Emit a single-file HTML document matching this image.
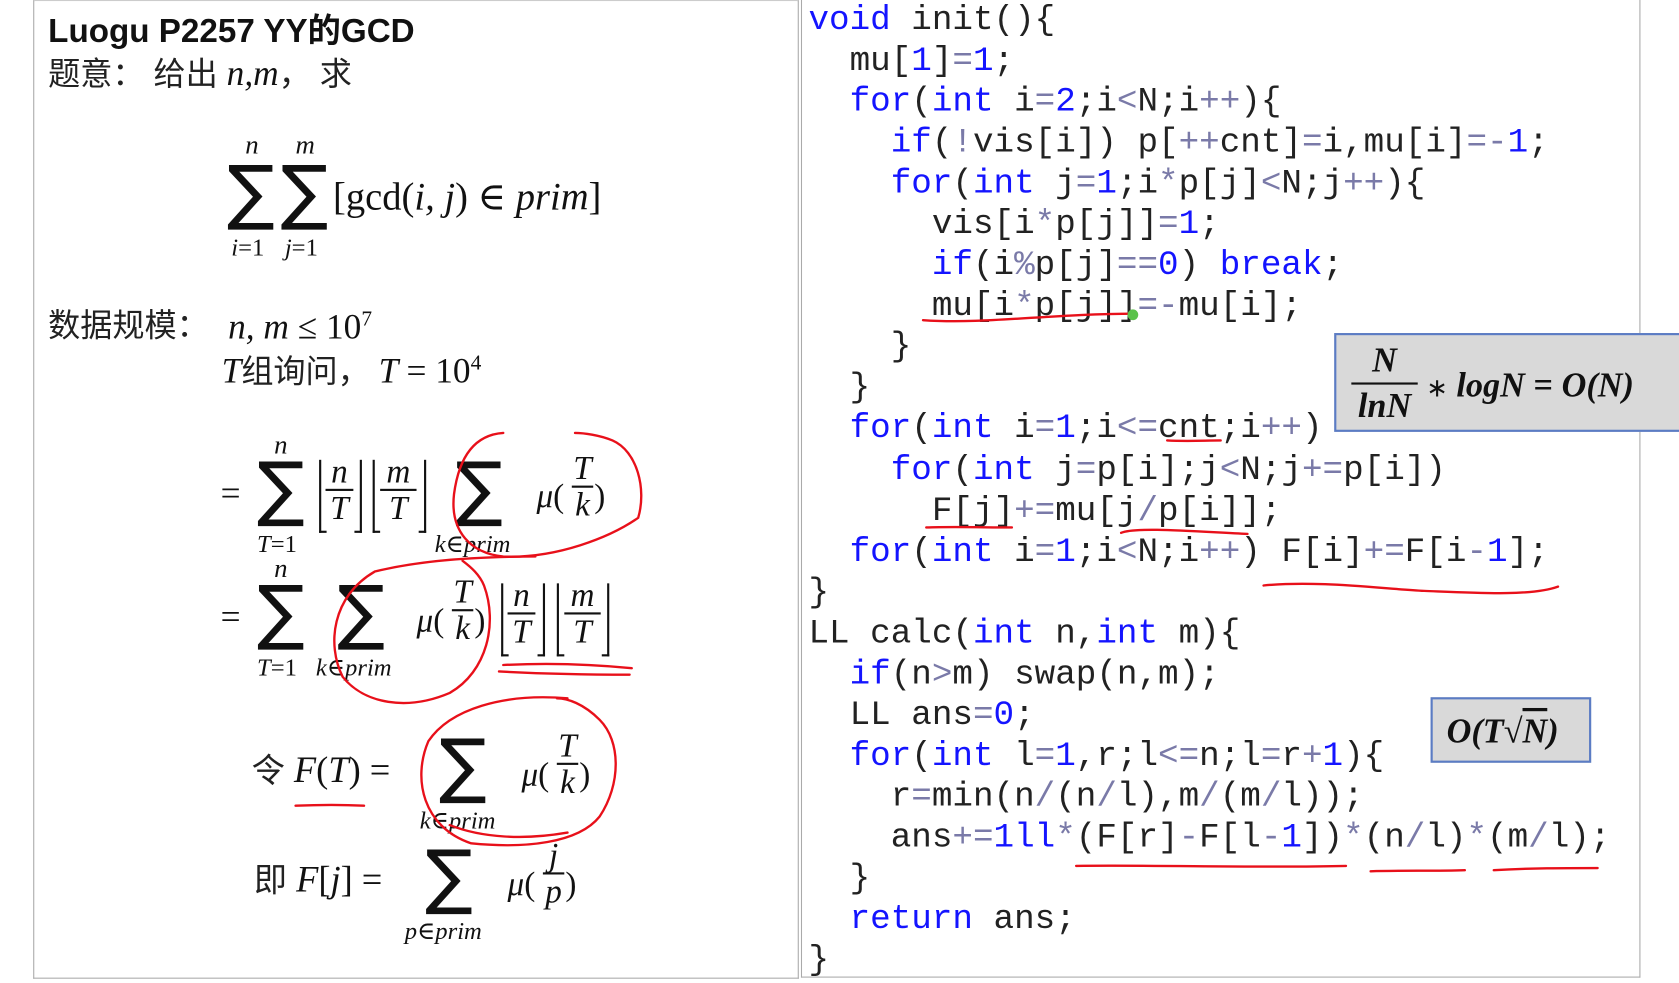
<!DOCTYPE html>
<html><head><meta charset="utf-8"><style>
html,body{margin:0;padding:0;background:#fff;overflow:hidden;width:1679px;height:983px}
#s{position:absolute;left:0;top:0;width:1568px;height:915px;transform:scale(1.07079,1.07432);transform-origin:0 0}
.a{position:absolute;white-space:nowrap;line-height:1}
.cjk{font-family:"Liberation Sans","Noto Sans CJK SC",sans-serif;color:#222}
.m{font-family:"Liberation Serif","DejaVu Serif",serif;font-style:italic;color:#111}
.r{font-style:normal}
.sum{font-family:"DejaVu Sans","Liberation Serif",serif;font-size:66px;color:#111;font-style:normal}
.fr{position:absolute;display:flex;flex-direction:column;align-items:center;font-family:"Liberation Serif",serif;font-style:italic;font-size:31px;line-height:30px;color:#111}
.fr i{display:block;width:100%;height:1.5px;background:#111;margin:1px 0}
.fl{position:absolute;border:2px solid #111;border-top:none;}
.fl.l{border-right:none}.fl.rr{border-left:none}
#code{position:absolute;left:755px;top:0px;font-family:"Liberation Mono",monospace;font-size:32px;line-height:38.04px;color:#222;white-space:pre}
.k{color:#1414ff}.n{color:#1414ff}.o{color:#7a7aa8}
.box{position:absolute;background:#d9d9d9;border:2px solid #5b7cc4;font-family:"Liberation Serif",serif;font-style:italic;font-weight:bold;color:#111}
</style></head><body><div id="s">
<div style="position:absolute;left:31px;top:0;width:713px;height:909px;border:1px solid #aaa;border-top:1px solid #ccc"></div>
<div style="position:absolute;left:748px;top:0;width:782px;height:909px;border:1px solid #aaa;border-top:none"></div>

<div class="a cjk" style="left:45px;top:13px;font-size:31px;font-weight:bold;color:#111">Luogu P2257 YY的GCD</div>
<div class="a cjk" style="left:45px;top:53px;font-size:30px">题意： 给出 <span class="m" style="font-size:33px">n</span><span class="m" style="font-size:33px">,</span><span class="m" style="font-size:33px">m</span>，  求</div>

<!-- formula 1 -->
<div class="a m" style="left:229px;top:123px;font-size:25px">n</div>
<div class="a m" style="left:276px;top:123px;font-size:25px">m</div>
<div class="a sum" style="left:212px;top:146px">∑</div>
<div class="a sum" style="left:262px;top:146px">∑</div>
<div class="a m" style="left:216px;top:219px;font-size:23px">i<span class="r">=1</span></div>
<div class="a m" style="left:266px;top:219px;font-size:23px">j<span class="r">=1</span></div>
<div class="a m" style="left:311px;top:165px;font-size:36px"><span class="r">[gcd(</span>i, j<span class="r">) ∈ </span>prim<span class="r">]</span></div>

<div class="a cjk" style="left:45px;top:289px;font-size:30px">数据规模：</div>
<div class="a m" style="left:213px;top:287px;font-size:33px">n, m <span class="r">≤ 10<sup style="font-size:20px">7</sup></span></div>
<div class="a m" style="left:207px;top:328px;font-size:33px">T<span class="cjk" style="font-style:normal;font-size:30px">组询问，</span> T <span class="r">= 10<sup style="font-size:20px">4</sup></span></div>

<!-- eq1 -->
<div class="a m r" style="left:206px;top:444px;font-size:33px;font-style:normal">=</div>
<div class="a m" style="left:256px;top:402px;font-size:25px">n</div>
<div class="a sum" style="left:240px;top:422px">∑</div>
<div class="a m" style="left:240px;top:495px;font-size:23px">T<span class="r">=1</span></div>
<div class="fl l" style="left:298px;top:428px;width:5px;height:66px"></div>
<div class="fl rr" style="left:331px;top:428px;width:5px;height:66px"></div>
<div class="fr" style="left:304px;top:424px;width:26px">n<i></i>T</div>
<div class="fl l" style="left:348px;top:428px;width:5px;height:66px"></div>
<div class="fl rr" style="left:391px;top:428px;width:5px;height:66px"></div>
<div class="fr" style="left:355px;top:424px;width:34px">m<i></i>T</div>
<div class="a sum" style="left:425px;top:422px">∑</div>
<div class="a m" style="left:406px;top:495px;font-size:23px">k<span class="r">∈</span>prim</div>
<div class="a m" style="left:501px;top:446px;font-size:31px">μ<span class="r">(</span></div>
<div class="fr" style="left:534px;top:421px;width:20px">T<i></i>k</div>
<div class="a m r" style="left:555px;top:446px;font-size:31px;font-style:normal">)</div>

<!-- eq2 -->
<div class="a m r" style="left:206px;top:559px;font-size:33px;font-style:normal">=</div>
<div class="a m" style="left:256px;top:517px;font-size:25px">n</div>
<div class="a sum" style="left:240px;top:537px">∑</div>
<div class="a m" style="left:240px;top:610px;font-size:23px">T<span class="r">=1</span></div>
<div class="a sum" style="left:315px;top:537px">∑</div>
<div class="a m" style="left:295px;top:610px;font-size:23px">k<span class="r">∈</span>prim</div>
<div class="a m" style="left:389px;top:562px;font-size:31px">μ<span class="r">(</span></div>
<div class="fr" style="left:422px;top:536px;width:20px">T<i></i>k</div>
<div class="a m r" style="left:443px;top:562px;font-size:31px;font-style:normal">)</div>
<div class="fl l" style="left:468px;top:543px;width:5px;height:66px"></div>
<div class="fl rr" style="left:502px;top:543px;width:5px;height:66px"></div>
<div class="fr" style="left:474px;top:539px;width:26px">n<i></i>T</div>
<div class="fl l" style="left:520px;top:543px;width:5px;height:66px"></div>
<div class="fl rr" style="left:562px;top:543px;width:5px;height:66px"></div>
<div class="fr" style="left:527px;top:539px;width:34px">m<i></i>T</div>

<!-- eq3 -->
<div class="a m" style="left:235px;top:701px;font-size:34px"><span class="cjk" style="font-style:normal;font-size:31px">令</span> F<span class="r">(</span>T<span class="r">) =</span></div>
<div class="a sum" style="left:410px;top:680px">∑</div>
<div class="a m" style="left:392px;top:752px;font-size:23px">k<span class="r">∈</span>prim</div>
<div class="a m" style="left:487px;top:705px;font-size:31px">μ<span class="r">(</span></div>
<div class="fr" style="left:520px;top:679px;width:20px">T<i></i>k</div>
<div class="a m r" style="left:541px;top:705px;font-size:31px;font-style:normal">)</div>

<!-- eq4 -->
<div class="a m" style="left:237px;top:803px;font-size:34px"><span class="cjk" style="font-style:normal;font-size:31px">即</span> F<span class="r">[</span>j<span class="r">] =</span></div>
<div class="a sum" style="left:397px;top:783px">∑</div>
<div class="a m" style="left:378px;top:855px;font-size:23px">p<span class="r">∈</span>prim</div>
<div class="a m" style="left:474px;top:807px;font-size:31px">μ<span class="r">(</span></div>
<div class="fr" style="left:507px;top:781px;width:20px">j<i></i>p</div>
<div class="a m r" style="left:528px;top:807px;font-size:31px;font-style:normal">)</div>

<div id="code"><span class="k">void</span> init(){
  mu[<span class="n">1</span>]<span class="o">=</span><span class="n">1</span>;
  <span class="k">for</span>(<span class="k">int</span> i<span class="o">=</span><span class="n">2</span>;i<span class="o">&lt;</span>N;i<span class="o">++</span>){
    <span class="k">if</span>(<span class="o">!</span>vis[i]) p[<span class="o">++</span>cnt]<span class="o">=</span>i,mu[i]<span class="o">=-</span><span class="n">1</span>;
    <span class="k">for</span>(<span class="k">int</span> j<span class="o">=</span><span class="n">1</span>;i<span class="o">*</span>p[j]<span class="o">&lt;</span>N;j<span class="o">++</span>){
      vis[i<span class="o">*</span>p[j]]<span class="o">=</span><span class="n">1</span>;
      <span class="k">if</span>(i<span class="o">%</span>p[j]<span class="o">==</span><span class="n">0</span>) <span class="k">break</span>;
      mu[i<span class="o">*</span>p[j]]<span class="o">=-</span>mu[i];
    }
  }
  <span class="k">for</span>(<span class="k">int</span> i<span class="o">=</span><span class="n">1</span>;i<span class="o">&lt;=</span>cnt;i<span class="o">++</span>)
    <span class="k">for</span>(<span class="k">int</span> j<span class="o">=</span>p[i];j<span class="o">&lt;</span>N;j<span class="o">+=</span>p[i])
      F[j]<span class="o">+=</span>mu[j<span class="o">/</span>p[i]];
  <span class="k">for</span>(<span class="k">int</span> i<span class="o">=</span><span class="n">1</span>;i<span class="o">&lt;</span>N;i<span class="o">++</span>) F[i]<span class="o">+=</span>F[i<span class="o">-</span><span class="n">1</span>];
}
LL calc(<span class="k">int</span> n,<span class="k">int</span> m){
  <span class="k">if</span>(n<span class="o">&gt;</span>m) swap(n,m);
  LL ans<span class="o">=</span><span class="n">0</span>;
  <span class="k">for</span>(<span class="k">int</span> l<span class="o">=</span><span class="n">1</span>,r;l<span class="o">&lt;=</span>n;l<span class="o">=</span>r<span class="o">+</span><span class="n">1</span>){
    r<span class="o">=</span>min(n<span class="o">/</span>(n<span class="o">/</span>l),m<span class="o">/</span>(m<span class="o">/</span>l));
    ans<span class="o">+=</span><span class="n">1ll</span><span class="o">*</span>(F[r]<span class="o">-</span>F[l<span class="o">-</span><span class="n">1</span>])<span class="o">*</span>(n<span class="o">/</span>l)<span class="o">*</span>(m<span class="o">/</span>l);
  }
  <span class="k">return</span> ans;
}</div>

<div class="box" style="left:1246px;top:310px;width:330px;height:88px">
  <div style="position:absolute;left:14px;top:6px;width:62px;text-align:center;font-size:32px;line-height:34px">N<div style="height:2px;background:#111;margin:4px 0 2px"></div>lnN</div>
  <div style="position:absolute;left:84px;top:28px;font-size:32px;white-space:nowrap"><span style="font-weight:normal;font-style:normal;font-size:24px">∗</span> logN <span style="font-style:normal">=</span> O(N)</div>
</div>
<div class="box" style="left:1336px;top:649px;width:146px;height:57px">
  <div style="position:absolute;left:13px;top:11px;font-size:32px;white-space:nowrap">O(T<span style="font-style:normal">√</span><span style="text-decoration:overline">N</span>)</div>
</div>

<svg style="position:absolute;left:0;top:0" width="1568" height="915" viewBox="0 0 1568 915" fill="none" stroke="#e8101a" stroke-width="2.2" stroke-linecap="round">
<path d="M470,403 C440,405 428,430 424,460 C420,495 440,515 470,518 C520,520 570,500 596,482 C604,455 595,420 572,410 C560,405 545,403 537,403"/>
<path d="M500,518 C440,518 390,522 350,532 C310,555 305,600 320,630 C340,655 380,662 420,645 C455,625 465,580 452,545 C448,535 440,528 432,522"/>
<path d="M470,619 C510,617 550,618 590,622 M466,625 C520,628 560,628 588,628"/>
<path d="M530,650 C470,645 420,660 400,690 C385,725 395,770 440,785 C490,790 540,785 560,760 C580,730 580,690 560,670 C545,655 530,650 520,650"/>
<path d="M420,768 C450,780 490,782 530,775"/>
<path d="M276,750 C300,749 320,749 340,750"/>
<path d="M862,298 C920,302 980,292 1060,292"/>
<path d="M1090,410 C1110,411 1125,410 1140,410"/>
<path d="M865,491 C890,490 920,491 945,491"/>
<path d="M1047,496 C1060,490 1120,495 1165,497"/>
<path d="M1180,545 C1230,540 1290,548 1330,550 C1380,552 1430,555 1455,546"/>
<path d="M1005,806 C1080,805 1180,808 1257,806"/>
<path d="M1280,811 C1310,810 1340,811 1368,810"/>
<path d="M1395,810 C1430,808 1460,808 1492,808"/>
<circle cx="1058" cy="293" r="5" fill="#5ac24a" stroke="none"/>
</svg>
</div></body></html>
